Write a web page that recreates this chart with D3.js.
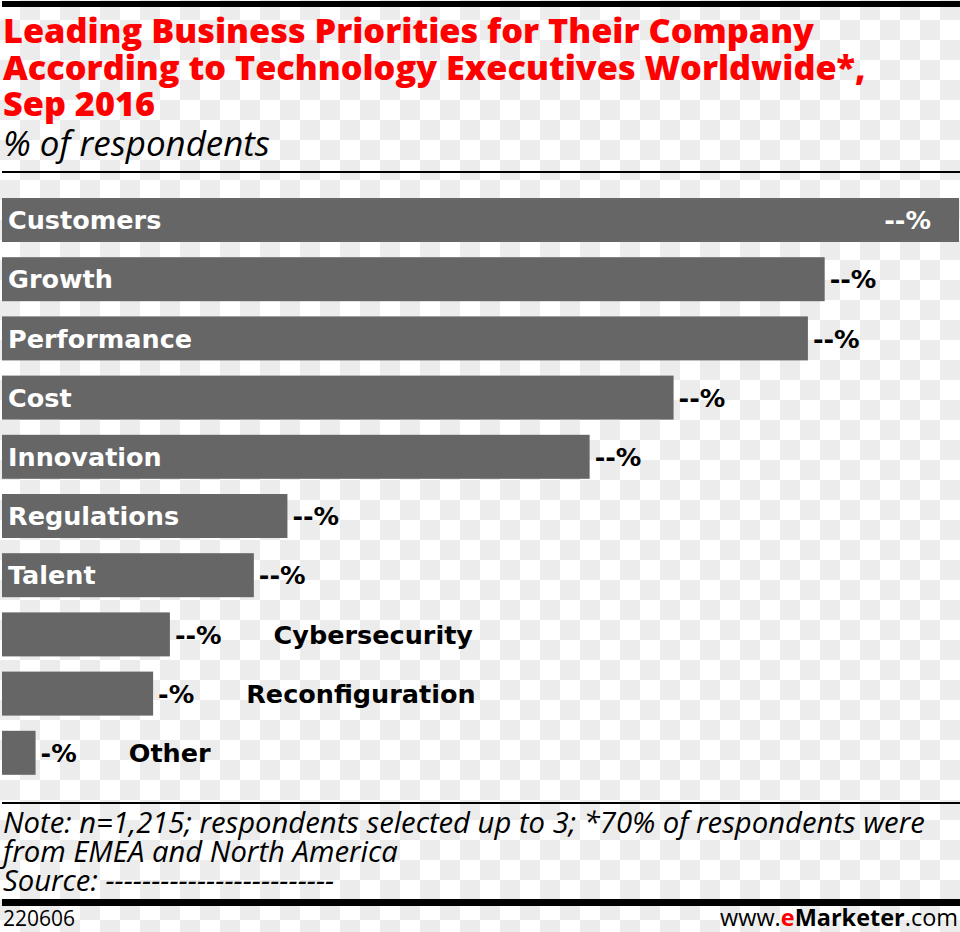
<!DOCTYPE html>
<html><head><meta charset="utf-8">
<script src="https://cdn.jsdelivr.net/npm/d3@7"></script>
<style>body{margin:0;background:#fff}svg{display:block}</style>
</head><body>
<svg id="chart" width="960" height="932"></svg>
<script>
const categories = ["Customers","Growth","Performance","Cost","Innovation","Regulations","Talent","Cybersecurity","Reconfiguration","Other"];
const values = [57,49,48,40,35,17,15,10,9,2];
const valueLabels = ["--%","--%","--%","--%","--%","--%","--%","--%","-%","-%"];
const titleLines = ["Leading Business Priorities for Their Company","According to Technology Executives Worldwide*,","Sep 2016"];
const subtitle = "% of respondents";
const noteLines = ["Note: n=1,215; respondents selected up to 3; *70% of respondents were","from EMEA and North America","Source: -------------------------"];
const footerId = "220606";

const svg = d3.select("#chart");
const W = 960, H = 932;

// checkerboard background
const defs = svg.append("defs");
const pat = defs.append("pattern").attr("id","cb").attr("width",40).attr("height",40).attr("patternUnits","userSpaceOnUse");
pat.append("rect").attr("width",40).attr("height",40).attr("fill","#ffffff");
pat.append("rect").attr("x",20).attr("y",0).attr("width",20).attr("height",20).attr("fill","#ececec");
pat.append("rect").attr("x",0).attr("y",20).attr("width",20).attr("height",20).attr("fill","#ececec");
svg.append("rect").attr("width",W).attr("height",H).attr("fill","url(#cb)");

function fit(sel, target){
  const w = sel.node().getComputedTextLength();
  const fs = parseFloat(sel.attr("font-size"));
  return fs*target/w;
}

// top rule
svg.append("rect").attr("x",2).attr("y",1).attr("width",W-2).attr("height",6).attr("fill","#000");

// title
const tY = [43,80,116];
const tt = svg.append("g").attr("font-family","'Open Sans', sans-serif").attr("font-weight",800).attr("fill","#ff0000");
const t0 = tt.append("text").attr("x",3).attr("y",tY[0]).attr("font-size",32).text(titleLines[0]);
const tfs = fit(t0, 811);
t0.attr("font-size",tfs);
titleLines.slice(1).forEach((l,i)=>tt.append("text").attr("x",3).attr("y",tY[i+1]).attr("font-size",tfs).text(l));

const st = svg.append("text").attr("x",3).attr("y",156).attr("font-family","'Open Sans', sans-serif").attr("font-style","italic").attr("font-size",30).attr("fill","#000").text(subtitle);
st.attr("font-size", fit(st,267));

svg.append("rect").attr("x",2).attr("y",171).attr("width",W-2).attr("height",2).attr("fill","#000");

// bars
const x = d3.scaleLinear().domain([0,57]).range([2,959]);
const y = d3.scaleBand().domain(categories).range([198,774.8]).paddingInner(0.2568).paddingOuter(0);

const labelFont = "'DejaVu Sans', sans-serif";
const lfs = 25.5;
const g = svg.append("g");
g.selectAll("rect.bar").data(categories).join("rect").attr("class","bar")
  .attr("x",x(0)).attr("y",d=>y(d)).attr("width",(d,i)=>x(values[i])-x(0)).attr("height",y.bandwidth())
  .attr("fill","#666666");

categories.forEach((c,i)=>{
  const cy = y(c)+y.bandwidth()/2;
  const end = x(values[i]);
  const inside = i < 7;
  if (i === 0) {
    g.append("text").attr("x",end-28).attr("y",cy).attr("dy","0.36em").attr("text-anchor","end")
      .attr("font-family",labelFont).attr("font-weight",700).attr("font-size",lfs).attr("fill","#fff").text(valueLabels[i]);
  }
  let vEnd = end;
  if (i !== 0) {
    const vt = g.append("text").attr("x",end+5).attr("y",cy).attr("dy","0.36em")
      .attr("font-family",labelFont).attr("font-weight",700).attr("font-size",lfs).attr("fill","#000").text(valueLabels[i]);
    vEnd = end+5+vt.node().getComputedTextLength();
  }
  if (inside) {
    g.append("text").attr("x",8).attr("y",cy).attr("dy","0.36em")
      .attr("font-family",labelFont).attr("font-weight",700).attr("font-size",lfs).attr("fill","#fff").text(c);
  } else {
    g.append("text").attr("x",vEnd+52).attr("y",cy).attr("dy","0.36em")
      .attr("font-family",labelFont).attr("font-weight",700).attr("font-size",lfs).attr("fill","#000").text(c);
  }
});

// note rule
svg.append("rect").attr("x",2).attr("y",802).attr("width",W-2).attr("height",2).attr("fill","#000");
const nY = [833,862,891];
const ng = svg.append("g").attr("font-family","'Open Sans', sans-serif").attr("font-style","italic").attr("fill","#000");
const n0 = ng.append("text").attr("x",3).attr("y",nY[0]).attr("font-size",26).text(noteLines[0]);
const nfs = fit(n0, 922);
n0.attr("font-size",nfs);
noteLines.slice(1).forEach((l,i)=>ng.append("text").attr("x",3).attr("y",nY[i+1]).attr("font-size",nfs).text(l));

svg.append("rect").attr("x",2).attr("y",899).attr("width",W-2).attr("height",7).attr("fill","#000");

svg.append("text").attr("x",3).attr("y",926).attr("font-family","'Open Sans', sans-serif").attr("font-size",21).attr("fill","#000").text(footerId);
const ft = svg.append("text").attr("x",958).attr("y",926).attr("text-anchor","end").attr("font-family","'Open Sans', sans-serif").attr("font-size",22).attr("fill","#000");
ft.append("tspan").text("www.");
ft.append("tspan").attr("fill","#ff0000").attr("font-weight",700).text("e");
ft.append("tspan").attr("font-weight",700).text("Marketer");
ft.append("tspan").text(".com");
const fw = ft.node().getComputedTextLength();
ft.attr("font-size", 22*Math.min(1.1, 238/fw));
</script>
</body></html>
